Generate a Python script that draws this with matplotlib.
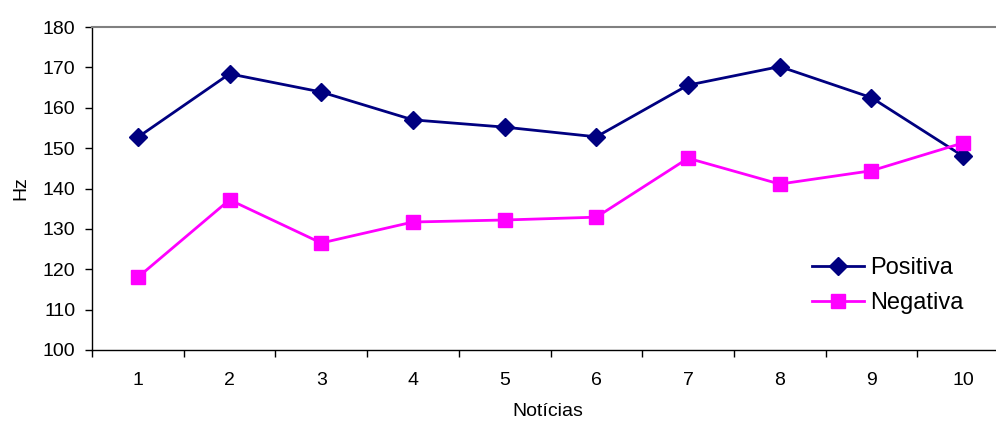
import numpy as np
import matplotlib.pyplot as plt

plt.rcParams['font.family'] = ['Liberation Sans', 'DejaVu Sans']

noticias = np.arange(1, 11)
positiva = [152.7, 168.4, 163.9, 157.0, 155.2, 152.8, 165.6, 170.2, 162.5, 148.0]
negativa = [118.0, 137.2, 126.5, 131.7, 132.2, 132.9, 147.5, 141.1, 144.4, 151.3]

fig = plt.figure(figsize=(9.96, 4.28), dpi=100)
# plot area runs a bit past the right edge of the figure
ax = fig.add_axes([92/996, 1-350/428, 917/996, 323/428])

ax.plot(noticias, positiva, color='#000080', lw=2, marker='D', ms=9.5,
        label='Positiva')
ax.plot(noticias, negativa, color='#FF00FF', lw=2, marker='s', ms=10,
        label='Negativa')

ax.set_xlim(0.5, 10.5)
ax.set_ylim(100, 180)
ax.set_yticks(np.arange(100, 181, 10))

# category ticks sit between the categories, labels on them
ax.set_xticks(np.arange(0.5, 11, 1))
ax.set_xticklabels([])
ax.set_xticks(noticias, minor=True)
ax.set_xticklabels([str(n) for n in noticias], minor=True)
ax.tick_params(axis='x', which='minor', length=0, pad=16, labelsize=14)
ax.tick_params(axis='x', which='major', direction='out', length=5, width=1)
ax.tick_params(axis='y', direction='out', length=5, width=1, labelsize=14, pad=7)

for side in ('top', 'right'):
    ax.spines[side].set_color('#808080')
    ax.spines[side].set_linewidth(1.5)
for side in ('left', 'bottom'):
    ax.spines[side].set_color('black')
    ax.spines[side].set_linewidth(1)

ax.set_xlabel('Notícias', fontsize=14)
ax.xaxis.set_label_coords((548-92)/917, -(403-350)/323)
ax.set_ylabel('Hz', fontsize=14)
ax.yaxis.set_label_coords(-(92-29)/917, 0.5)

ax.legend(loc='upper left', bbox_to_anchor=((803-92)/917, 1-(248-27)/323),
          frameon=False, fontsize=17, handlelength=2.2, handletextpad=0.25,
          labelspacing=0.55, borderaxespad=0)

fig.savefig('out.png', dpi=100)
